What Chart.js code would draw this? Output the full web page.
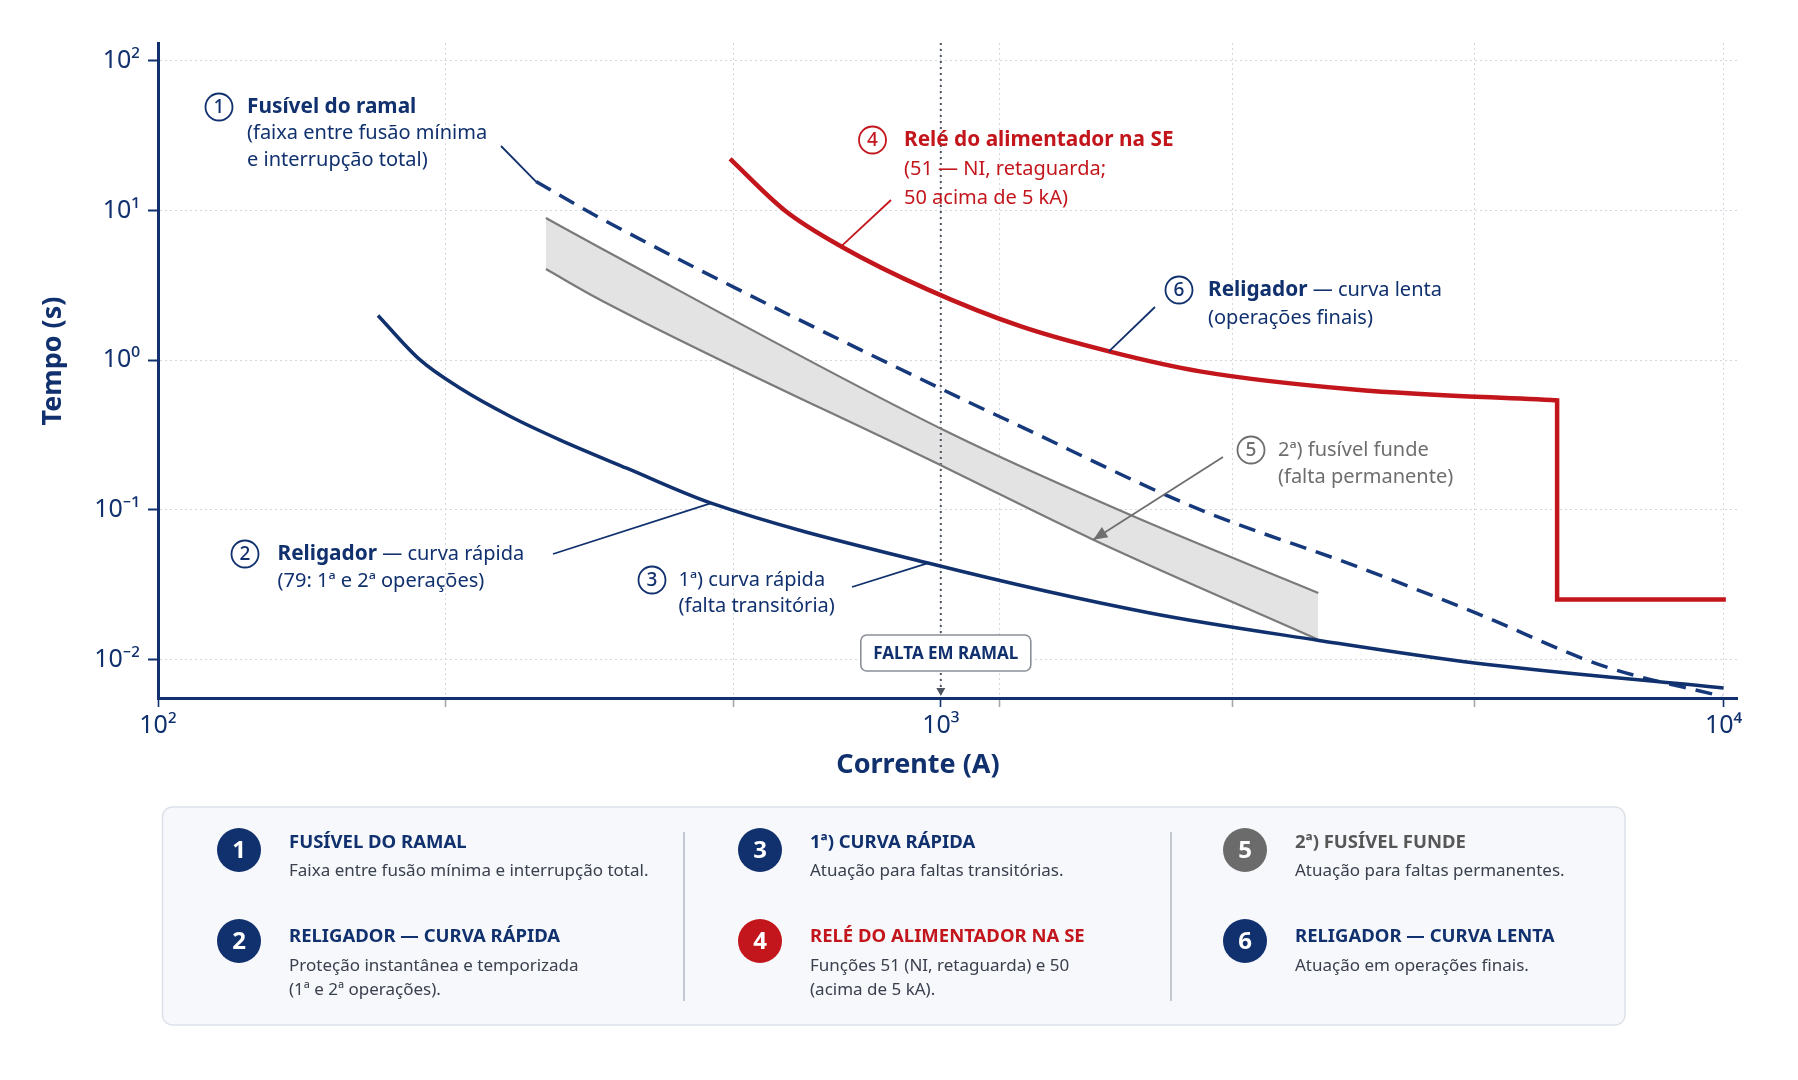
<!DOCTYPE html>
<html><head><meta charset="utf-8">
<script src="https://cdn.jsdelivr.net/npm/chart.js@4.4.1/dist/chart.umd.min.js"></script>
<style>
html,body{margin:0;padding:0;background:#ffffff;}
canvas{display:block;}
</style></head><body>
<canvas id="c" width="1798" height="1080"></canvas>
<script>
// ---------------- data ----------------
const fastCurrent = [191, 216, 243, 282, 326, 397, 509, 963, 1850, 3040, 4810, 10000];
const fastTime    = [1.99, 1.008, 0.652, 0.421, 0.294, 0.19, 0.111, 0.0442, 0.0205, 0.01345, 0.0095, 0.00647];
const fuseCurrent = [304, 367, 1069, 1213, 2143, 3398, 4814, 7045, 9955];
const fuseTime    = [15.6, 8.9, 0.545, 0.40, 0.1004, 0.042, 0.0206, 0.00902, 0.00569];
const bandUpperCurrent = [313, 367, 1027, 1762, 3036];
const bandUpperTime    = [8.9, 5.64, 0.326, 0.0906, 0.0279];
const bandLowerCurrent = [313, 367, 1027, 1566, 3036];
const bandLowerTime    = [4.06, 2.535, 0.1857, 0.0633, 0.0136];
const relayCurrent = [538, 632, 746, 963, 1266, 1640, 2143, 3398, 6128];
const relayTime    = [22.1, 10.0, 5.75, 2.96, 1.68, 1.145, 0.842, 0.635, 0.539];
const relayInstCurrent = [6128, 6128, 10000];
const relayInstTime    = [0.539, 0.0252, 0.0252];
const xTickValues = [100, 233, 544, 1000, 1190, 2360, 4810, 10000];
const yTickValues = [0.01, 0.1, 1, 10, 100];
const faultCurrent = 1000;

// ---------------- styles ----------------
const NAVY = '#10306e', NAVY2 = '#16397c', RED = '#c3161c', GRAY = '#6e6e6e';
const FONT = '"Noto Sans", "Open Sans", "DejaVu Sans", sans-serif';
Chart.defaults.font.family = FONT;

function isDecade(v){ const l = Math.log10(v); return Math.abs(l - Math.round(l)) < 1e-6; }
const SUP = {'-2':'⁻²','-1':'⁻¹','0':'⁰','1':'¹','2':'²','3':'³','4':'⁴'};
function decadeLabel(v){ return isDecade(v) ? '10' + SUP[String(Math.round(Math.log10(v)))] : ''; }
const xy = (xs, ys) => xs.map((x, i) => ({x: x, y: ys[i]}));

// ---------------- annotation layout ----------------
const notes = [
  {n:'1', color:NAVY, cx:219, cy:107, tx:247, lh:26.7,
   lines:[[{t:'Fusível do ramal', w:700}], [{t:'(faixa entre fusão mínima'}], [{t:'e interrupção total)'}]],
   from:[501,146], to:{xs:fuseCurrent, ys:fuseTime, i:0}},
  {n:'2', color:NAVY, cx:245, cy:554, tx:277.5, lh:27.7,
   lines:[[{t:'Religador', w:700}, {t:' — curva rápida'}], [{t:'(79: 1ª e 2ª operações)'}]],
   from:[553,554], to:{xs:fastCurrent, ys:fastTime, i:6}},
  {n:'3', color:NAVY, cx:652, cy:580, tx:678.5, lh:26.7,
   lines:[[{t:'1ª) curva rápida'}], [{t:'(falta transitória)'}]],
   from:[852,587], to:{xs:fastCurrent, ys:fastTime, i:7}},
  {n:'4', color:RED, cx:872.5, cy:140, tx:904, lh:29,
   lines:[[{t:'Relé do alimentador na SE', w:700}], [{t:'(51 — NI, retaguarda;'}], [{t:'50 acima de 5 kA)'}]],
   from:[891,200], to:{xs:relayCurrent, ys:relayTime, i:2}},
  {n:'5', color:GRAY, cx:1251, cy:450, tx:1278, lh:27.3,
   lines:[[{t:'2ª) fusível funde'}], [{t:'(falta permanente)'}]],
   from:[1223,457], arrow:true, to:{xs:bandLowerCurrent, ys:bandLowerTime, i:3}},
  {n:'6', color:NAVY, cx:1179, cy:290, tx:1208, lh:28.3,
   lines:[[{t:'Religador', w:700}, {t:' — curva lenta'}], [{t:'(operações finais)'}]],
   from:[1155,307], to:{xs:relayCurrent, ys:relayTime, i:5}}
];

const legendItems = [
  {n:'1', badge:NAVY, head:'FUSÍVEL DO RAMAL', hc:NAVY, desc:['Faixa entre fusão mínima e interrupção total.'], col:0, row:0},
  {n:'2', badge:NAVY, head:'RELIGADOR — CURVA RÁPIDA', hc:NAVY, desc:['Proteção instantânea e temporizada','(1ª e 2ª operações).'], col:0, row:1},
  {n:'3', badge:NAVY, head:'1ª) CURVA RÁPIDA', hc:NAVY, desc:['Atuação para faltas transitórias.'], col:1, row:0},
  {n:'4', badge:RED, head:'RELÉ DO ALIMENTADOR NA SE', hc:RED, desc:['Funções 51 (NI, retaguarda) e 50','(acima de 5 kA).'], col:1, row:1},
  {n:'5', badge:'#6b6b6b', head:'2ª) FUSÍVEL FUNDE', hc:'#575757', desc:['Atuação para faltas permanentes.'], col:2, row:0},
  {n:'6', badge:NAVY, head:'RELIGADOR — CURVA LENTA', hc:NAVY, desc:['Atuação em operações finais.'], col:2, row:1}
];

function drawRuns(ctx, x, y, runs, color, size){
  let cx = x;
  runs.forEach(r => {
    const sz = r.w ? size * 1.04 : size;
    ctx.font = (r.w || 400) + ' ' + sz + 'px ' + FONT;
    ctx.fillStyle = color;
    ctx.fillText(r.t, cx, y);
    cx += ctx.measureText(r.t).width;
  });
}
function roundRect(ctx, x, y, w, h, r){
  ctx.beginPath();
  ctx.moveTo(x + r, y); ctx.lineTo(x + w - r, y); ctx.arcTo(x + w, y, x + w, y + r, r);
  ctx.lineTo(x + w, y + h - r); ctx.arcTo(x + w, y + h, x + w - r, y + h, r);
  ctx.lineTo(x + r, y + h); ctx.arcTo(x, y + h, x, y + h - r, r);
  ctx.lineTo(x, y + r); ctx.arcTo(x, y, x + r, y, r); ctx.closePath();
}

const overlay = {
  id: 'overlay',
  beforeDatasetsDraw(chart){
    const {ctx, chartArea: a, scales: {x}} = chart;
    const px = x.getPixelForValue(faultCurrent);
    ctx.save();
    ctx.strokeStyle = '#4f5560'; ctx.lineWidth = 2; ctx.setLineDash([2, 4]);
    ctx.beginPath(); ctx.moveTo(px, a.top); ctx.lineTo(px, a.bottom - 6); ctx.stroke();
    ctx.setLineDash([]); ctx.fillStyle = '#4f5560';
    ctx.beginPath(); ctx.moveTo(px - 4.5, a.bottom - 10); ctx.lineTo(px + 4.5, a.bottom - 10); ctx.lineTo(px, a.bottom - 2); ctx.closePath(); ctx.fill();
    ctx.restore();
  },
  afterDatasetsDraw(chart){
    const {ctx, scales: {x, y}} = chart;
    ctx.save();
    ctx.textBaseline = 'middle'; ctx.textAlign = 'left';
    notes.forEach(nt => {
      ctx.strokeStyle = nt.color; ctx.lineWidth = 1.8; ctx.setLineDash([]);
      const ex = x.getPixelForValue(nt.to.xs[nt.to.i]);
      const ey = y.getPixelForValue(nt.to.ys[nt.to.i]);
      ctx.beginPath(); ctx.moveTo(nt.from[0], nt.from[1]); ctx.lineTo(ex, ey); ctx.stroke();
      if (nt.arrow) {
        const ang = Math.atan2(ey - nt.from[1], ex - nt.from[0]);
        const L = 14, W = 6;
        ctx.fillStyle = nt.color;
        ctx.beginPath();
        ctx.moveTo(ex, ey);
        ctx.lineTo(ex - L * Math.cos(ang) + W * Math.sin(ang), ey - L * Math.sin(ang) - W * Math.cos(ang));
        ctx.lineTo(ex - L * Math.cos(ang) - W * Math.sin(ang), ey - L * Math.sin(ang) + W * Math.cos(ang));
        ctx.closePath(); ctx.fill();
      }
      ctx.beginPath(); ctx.arc(nt.cx, nt.cy, 13.5, 0, Math.PI * 2);
      ctx.fillStyle = '#ffffff'; ctx.fill();
      ctx.lineWidth = 1.8; ctx.strokeStyle = nt.color; ctx.stroke();
      ctx.textAlign = 'center'; ctx.fillStyle = nt.color; ctx.font = '500 19px ' + FONT;
      ctx.fillText(nt.n, nt.cx, nt.cy + 1);
      ctx.textAlign = 'left';
      nt.lines.forEach((ln, k) => drawRuns(ctx, nt.tx, nt.cy + k * nt.lh, ln, nt.color, 20));
    });
    const px = x.getPixelForValue(faultCurrent) + 5;
    const bw = 170, bh = 36, by = 635;
    roundRect(ctx, px - bw / 2, by, bw, bh, 6);
    ctx.fillStyle = '#ffffff'; ctx.fill();
    ctx.lineWidth = 1.6; ctx.strokeStyle = '#8a8f98'; ctx.stroke();
    ctx.fillStyle = NAVY; ctx.font = '700 17px ' + FONT; ctx.textAlign = 'center';
    ctx.fillText('FALTA EM RAMAL', px, by + bh / 2 + 1);
    ctx.restore();
  },
  afterDraw(chart){
    const ctx = chart.ctx;
    ctx.save();
    ctx.fillStyle = NAVY; ctx.font = '700 27px ' + FONT; ctx.textAlign = 'center'; ctx.textBaseline = 'middle';
    ctx.fillText('Corrente (A)', 918, 765);
    ctx.translate(53, 361); ctx.rotate(-Math.PI / 2); ctx.fillText('Tempo (s)', 0, 0);
    ctx.setTransform(1, 0, 0, 1, 0, 0);
    roundRect(ctx, 162.5, 807, 1462.5, 218, 10);
    ctx.fillStyle = '#f6f8fb'; ctx.fill();
    ctx.lineWidth = 1.5; ctx.strokeStyle = '#dde2ea'; ctx.stroke();
    ctx.strokeStyle = '#c3c7cf'; ctx.lineWidth = 2;
    [684, 1171].forEach(dx => { ctx.beginPath(); ctx.moveTo(dx, 832); ctx.lineTo(dx, 1001); ctx.stroke(); });
    const badgeX = [239, 760, 1245], headX = [289, 810, 1295];
    const badgeY = [850, 941], headY = [843, 937], descY = [871.5, 966];
    legendItems.forEach(it => {
      const bx = badgeX[it.col], byy = badgeY[it.row];
      ctx.beginPath(); ctx.arc(bx, byy, 22, 0, Math.PI * 2); ctx.fillStyle = it.badge; ctx.fill();
      ctx.fillStyle = '#ffffff'; ctx.font = '700 24px ' + FONT; ctx.textAlign = 'center'; ctx.textBaseline = 'middle';
      ctx.fillText(it.n, bx, byy + 1);
      ctx.textAlign = 'left';
      ctx.fillStyle = it.hc; ctx.font = '700 18.5px ' + FONT;
      ctx.fillText(it.head, headX[it.col], headY[it.row]);
      ctx.fillStyle = '#3a404d'; ctx.font = '400 17px ' + FONT;
      it.desc.forEach((d, k) => ctx.fillText(d, headX[it.col], descY[it.row] + k * 24));
    });
    ctx.restore();
  }
};

const baseLine = {pointRadius: 0, pointHoverRadius: 0, fill: false, cubicInterpolationMode: 'monotone'};

new Chart(document.getElementById('c'), {
  type: 'line',
  data: {
    datasets: [
      Object.assign({label: 'Religador — curva rápida', data: xy(fastCurrent, fastTime), borderColor: NAVY, borderWidth: 3.5}, baseLine),
      Object.assign({label: 'Fusível do ramal', data: xy(fuseCurrent, fuseTime), borderColor: NAVY2, borderWidth: 3.5, borderDash: [17, 10]}, baseLine),
      Object.assign({label: 'Relé do alimentador (51)', data: xy(relayCurrent, relayTime), borderColor: RED, borderWidth: 4.5}, baseLine),
      Object.assign({}, baseLine, {label: 'Relé do alimentador (50)', data: xy(relayInstCurrent, relayInstTime), borderColor: RED, borderWidth: 4.5, cubicInterpolationMode: 'default', tension: 0, borderJoinStyle: 'miter', borderCapStyle: 'square'}),
      Object.assign({}, baseLine, {label: 'Faixa do fusível — superior', data: xy(bandUpperCurrent, bandUpperTime), borderColor: '#7a7a7a', borderWidth: 2.2, fill: '+1', backgroundColor: '#e3e3e3'}),
      Object.assign({label: 'Faixa do fusível — inferior', data: xy(bandLowerCurrent, bandLowerTime), borderColor: '#7a7a7a', borderWidth: 2.2}, baseLine)
    ]
  },
  options: {
    responsive: false, animation: false, events: [],
    layout: {padding: {left: 0, top: 43, right: 61, bottom: 292}},
    plugins: {legend: {display: false}, tooltip: {enabled: false}, filler: {drawTime: 'beforeDatasetsDraw'}},
    scales: {
      x: {
        type: 'logarithmic', min: 100, max: 10402,
        afterBuildTicks: s => { s.ticks = xTickValues.map(v => ({value: v})); },
        afterFit: s => { s.height = 90; },
        grid: {color: '#d3d7de', lineWidth: 1, tickLength: 9,
               tickColor: c => (c.tick && isDecade(c.tick.value)) ? NAVY : '#a3a8b0', tickWidth: 1.6},
        border: {display: true, color: NAVY, width: 3, dash: [2, 3]},
        ticks: {autoSkip: false, maxRotation: 0, padding: 4, color: NAVY, font: {size: 25}, callback: v => decadeLabel(v)}
      },
      y: {
        type: 'logarithmic', min: 0.005548, max: 131.3,
        afterBuildTicks: s => { s.ticks = yTickValues.map(v => ({value: v})); },
        afterFit: s => { s.width = 158; },
        grid: {color: '#d3d7de', lineWidth: 1, tickLength: 10, tickColor: NAVY, tickWidth: 2},
        border: {display: true, color: NAVY, width: 3, dash: [2, 3]},
        ticks: {autoSkip: false, padding: 8, color: NAVY, font: {size: 25}, callback: v => decadeLabel(v)}
      }
    }
  },
  plugins: [overlay]
});
</script>
</body></html>
